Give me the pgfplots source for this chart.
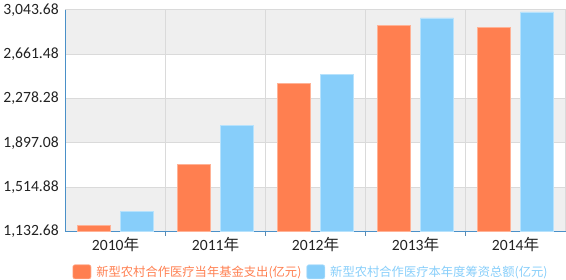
\documentclass[border=0pt]{standalone}
\usepackage{pgfplots}
\pgfplotsset{compat=1.18}
\usepackage{fontspec}
\setmainfont{Carlito}
\newfontfamily\cjk{Noto Sans CJK SC}

\definecolor{barorange}{HTML}{FF7F50}
\definecolor{barblue}{HTML}{87CEFA}
\definecolor{bandgray}{HTML}{EFEFEF}
\definecolor{gridgray}{HTML}{DADADA}
\definecolor{axisblue}{HTML}{4A90C8}
\definecolor{ticktext}{HTML}{222222}

\begin{document}
\begin{tikzpicture}
\begin{axis}[
    set layers,
    width=496pt, height=220pt, scale only axis,
    ybar, bar width=0.332,
    xmin=-0.5, xmax=4.5,
    ymin=1132.68, ymax=3043.68,
    xtick={0,1,2,3,4},
    xticklabels={2010{\cjk 年},2011{\cjk 年},2012{\cjk 年},2013{\cjk 年},2014{\cjk 年}},
    minor xtick={0.5,1.5,2.5,3.5},
    xtick pos=lower, ytick pos=left,
    major x tick style={draw=none},
    minor x tick style={draw=axisblue!70!gray, line width=0.8pt},
    minor tick length=4pt,
    tick align=outside,
    xminorgrids=true,
    ytick={1132.68,1514.88,1897.08,2278.28,2661.48,3043.68},
    yticklabels={{1,132.68},{1,514.88},{1,897.08},{2,278.28},{2,661.48},{3,043.68}},
    ymajorgrids=true,
    major y tick style={draw=none},
    grid style={draw=gridgray, line width=0.7pt},
    tick label style={font=\fontsize{15.5}{16}\selectfont, text=ticktext},
    xticklabel style={yshift=2pt},
    yticklabel style={xshift=1pt},
    axis line style={draw=gridgray, line width=0.8pt},
    legend style={draw=none, fill=none, at={(0.49,-0.182)}, anchor=center,
        inner sep=0pt, nodes={inner sep=1pt},
        font=\cjk\fontsize{12.2}{14}\selectfont, column sep=4pt},
    legend columns=2,
    legend image code/.code={\fill[#1, rounded corners=2pt] (0pt,-7pt) rectangle (18pt,7pt);},
]
\begin{pgfonlayer}{axis background}
\fill[bandgray] (axis cs:-0.5,1132.68) rectangle (axis cs:4.5,1514.88);
\fill[bandgray] (axis cs:-0.5,1897.08) rectangle (axis cs:4.5,2278.28);
\fill[bandgray] (axis cs:-0.5,2661.48) rectangle (axis cs:4.5,3043.68);
\end{pgfonlayer}
\addplot+[bar shift=-0.215, fill=barorange, draw=barorange!60!white, line width=0.6pt]
    coordinates {(0,1187.8) (1,1710.2) (2,2408.0) (3,2908.0) (4,2890.4)};
\addplot+[bar shift=0.215, fill=barblue, draw=barblue!60!white, line width=0.6pt]
    coordinates {(0,1308.3) (1,2047.6) (2,2484.7) (3,2972.5) (4,3025.3)};
\legend{\textcolor{barorange}{新型农村合作医疗当年基金支出(亿元)},\textcolor{barblue}{新型农村合作医疗本年度筹资总额(亿元)}}
\begin{pgfonlayer}{axis lines}
\draw[axisblue, line width=1.2pt] (rel axis cs:0,1) -- (rel axis cs:0,0) -- (rel axis cs:1,0);
\end{pgfonlayer}
\end{axis}
\end{tikzpicture}
\end{document}
